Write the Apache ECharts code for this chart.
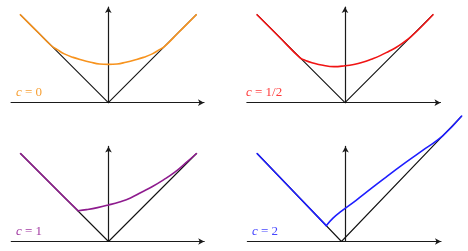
<!DOCTYPE html>
<html><head><meta charset="utf-8">
<script src="https://cdn.jsdelivr.net/npm/echarts@6/dist/echarts.min.js"></script>
<style>html,body{margin:0;padding:0;background:#fff}#c{width:468px;height:251px}</style>
</head><body><div id="c"></div>
<script>
// Reference |x| (black V) in each panel
const vX = [-2, 0, 2];
const vY = [2, 0, 2];
const vX2 = [-2, 0, 2.85];
const vY2 = [2, 0, 2.85];

// c = 0 (orange)
const c0X = [-2, -1.6, -1.3, -1.15, -1.0, -0.8, -0.6, -0.4, -0.2, 0, 0.2, 0.4, 0.6, 0.8, 1.0, 1.15, 1.28, 1.6, 2];
const c0Y = [2, 1.6, 1.3, 1.2, 1.11, 1.03, 0.97, 0.92, 0.88, 0.87, 0.88, 0.92, 0.97, 1.03, 1.11, 1.2, 1.28, 1.6, 2];
// c = 1/2 (red)
const c1X = [-2, -1.5, -1.02, -0.9, -0.75, -0.5, -0.25, 0, 0.2, 0.4, 0.6, 0.8, 1.0, 1.15, 1.3, 1.5, 2];
const c1Y = [2, 1.5, 1.02, 0.96, 0.91, 0.85, 0.82, 0.84, 0.87, 0.92, 0.99, 1.07, 1.17, 1.25, 1.35, 1.5, 2];
// c = 1 (purple)
const c2X = [-2, -1.5, -1, -0.69, -0.5, -0.25, 0, 0.25, 0.5, 0.75, 1.0, 1.25, 1.5, 1.75, 2];
const c2Y = [2, 1.5, 1, 0.70, 0.725, 0.77, 0.83, 0.90, 0.99, 1.12, 1.25, 1.40, 1.57, 1.78, 2];
// c = 2 (blue)
const c3X = [-2, -1, -0.36, -0.2, 0, 0.34, 0.7, 1.01, 1.5, 2.0, 2.4, 2.85];
const c3Y = [2, 1, 0.36, 0.53, 0.69, 0.93, 1.2, 1.43, 1.78, 2.12, 2.4, 2.85];

const cValues = ['0', '1/2', '1', '2'];

const curvesX = [c0X, c1X, c2X, c3X];
const curvesY = [c0Y, c1Y, c2Y, c3Y];
// index of the corner point where the curve leaves |x| (null = smooth everywhere)
const kinkIndex = [null, null, 3, 2];
const colors = ['#f7931e', '#f01414', '#8e1b8e', '#1e1eff'];
const labelColors = ['#f7a035', '#ff3c3c', '#a23aa2', '#4646ff'];

const U = 44;
const panels = [
  {ox: 108.3, oy: 102.7, xmin: -2.21, xmax: 2.175, ymax: 2.175, lx: 16, ly: 93.3},
  {ox: 345.0, oy: 102.7, xmin: -2.23, xmax: 2.17, ymax: 2.175, lx: 246, ly: 93.3},
  {ox: 108.5, oy: 241.5, xmin: -2.21, xmax: 2.175, ymax: 2.16, lx: 16, ly: 232.5},
  {ox: 345.5, oy: 241.5, xmin: -2.23, xmax: 2.17, ymax: 2.16, lx: 252, ly: 232.5}
];
// wider, hidden frame for the last panel so its marks run past the axes
const wide = {xmax: 3.0, ymax: 3.0};

const zip = (xs, ys) => xs.map((x, i) => [x, ys[i]]);

const grid = [], xAxis = [], yAxis = [], series = [], graphic = [];
const axisLine = {
  show: true, onZero: true,
  symbol: ['none', 'arrow'], symbolSize: [5, 6],
  lineStyle: {color: '#1a1a1a', width: 1.2}
};
const hidden = {show: false};
panels.forEach((p, i) => {
  grid.push({left: p.ox + p.xmin * U, top: p.oy - p.ymax * U,
             width: (p.xmax - p.xmin) * U, height: p.ymax * U});
  xAxis.push({type: 'value', gridIndex: i, min: p.xmin, max: p.xmax,
              axisLine: axisLine, axisTick: hidden, axisLabel: hidden, splitLine: hidden});
  yAxis.push({type: 'value', gridIndex: i, min: 0, max: p.ymax,
              axisLine: axisLine, axisTick: hidden, axisLabel: hidden, splitLine: hidden});
});
// hidden wide grid (index 4) sharing panel 4's origin and scale
const p3 = panels[3];
grid.push({left: p3.ox + p3.xmin * U, top: p3.oy - wide.ymax * U,
           width: (wide.xmax - p3.xmin) * U, height: wide.ymax * U});
xAxis.push({type: 'value', gridIndex: 4, min: p3.xmin, max: wide.xmax, show: false,
            axisLine: hidden, axisTick: hidden, axisLabel: hidden, splitLine: hidden});
yAxis.push({type: 'value', gridIndex: 4, min: 0, max: wide.ymax, show: false,
            axisLine: hidden, axisTick: hidden, axisLabel: hidden, splitLine: hidden});

panels.forEach((p, i) => {
  const ai = i === 3 ? 4 : i;
  const vx = i === 3 ? vX2 : vX, vy = i === 3 ? vY2 : vY;
  series.push({type: 'line', xAxisIndex: ai, yAxisIndex: ai, data: zip(vx, vy),
               showSymbol: false, z: 3,
               lineStyle: {color: '#111', width: 1.1}});
  const pts = zip(curvesX[i], curvesY[i]);
  const k = kinkIndex[i];
  const parts = k == null ? [pts] : [pts.slice(0, k + 1), pts.slice(k)];
  parts.forEach((d, j) => {
    series.push({type: 'line', xAxisIndex: ai, yAxisIndex: ai, data: d,
                 showSymbol: false, smooth: (k != null && j === 0) ? false : 0.45, z: 4,
                 lineStyle: {color: colors[i], width: 1.6, cap: 'round', join: 'round'}});
  });
  graphic.push({type: 'text', left: p.lx, top: p.ly - 7.5, z: 10,
    style: {text: '{i|c} = ' + cValues[i], fill: labelColors[i],
            font: '13px "Liberation Serif"',
            rich: {i: {fontStyle: 'italic', fontFamily: 'Liberation Serif', fontSize: 13, fill: labelColors[i]}}}});
});

const chart = echarts.init(document.getElementById('c'), null, {renderer: 'canvas'});
chart.setOption({animation: false, grid, xAxis, yAxis, series, graphic});
</script></body></html>
